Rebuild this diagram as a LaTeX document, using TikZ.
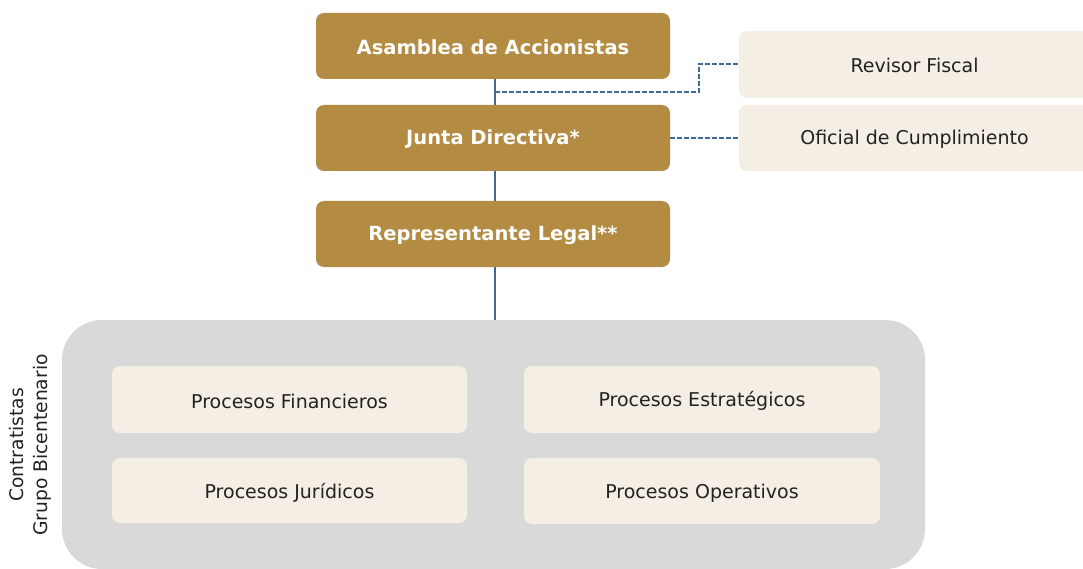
\documentclass[tikz,border=0pt]{standalone}
\usepackage{fontspec}
\setmainfont{DejaVu Sans}
\definecolor{gold}{HTML}{B38B42}
\definecolor{beige}{HTML}{F4EEE4}
\definecolor{panel}{HTML}{D9D9D9}
\definecolor{lineblue}{HTML}{3F6A98}
\definecolor{txt}{HTML}{222222}
\begin{document}
\begin{tikzpicture}[x=1pt,y=-1pt,
  goldbox/.style={fill=gold,rounded corners=8pt,text=white,font=\fontsize{19.5}{22}\selectfont\bfseries},
  lightbox/.style={fill=beige,rounded corners=8pt,text=txt,font=\fontsize{19}{22}\selectfont},
  solidline/.style={draw=lineblue,line width=1.4pt},
  dashline/.style={draw=lineblue,line width=1.4pt,dash pattern=on 4.5pt off 2.5pt}]
\useasboundingbox (0,0) rectangle (1083,569);
% panel
\fill[panel,rounded corners=40pt] (62,320) rectangle (925,569);
\node[rotate=90,align=center,text=txt,font=\fontsize{18.7}{24}\selectfont] (lbl) at (30,445) {Contratistas\\Grupo Bicentenario};
% gold boxes
\path[goldbox] (316,13) rectangle (670,79) node[midway,yshift=-1pt] (asam) {Asamblea de Accionistas};
\path[goldbox] (316,105) rectangle (670,171) node[midway,yshift=-1.5pt] (junta) {Junta Directiva*};
\path[goldbox] (316,201) rectangle (670,267) node[midway,yshift=-1.5pt] (rep) {Representante Legal**};
% side boxes
\path[lightbox] (739,31) rectangle (1090,98) node[pos=0.5,yshift=-1pt] (rev) {Revisor Fiscal};
\path[lightbox] (739,105) rectangle (1090,171) node[pos=0.5,yshift=-1.5pt] (ofi) {Oficial de Cumplimiento};
% process boxes
\path[lightbox] (112,366) rectangle (467,433) node[midway,yshift=-1.5pt] (fin) {Procesos Financieros};
\path[lightbox] (112,458) rectangle (467,523) node[midway,yshift=-2pt] (jur) {Procesos Jurídicos};
\path[lightbox] (524,366) rectangle (880,433) node[midway,yshift=-1.5pt] (est) {Procesos Estratégicos};
\path[lightbox] (524,458) rectangle (880,524) node[midway,yshift=-2pt] (ope) {Procesos Operativos};
% named anchors
\coordinate (aB) at (495,79);
\coordinate (jT) at (495,105);
\coordinate (jB) at (495,171);
\coordinate (rT) at (495,201);
\coordinate (rB) at (495,267);
\coordinate (pT) at (495,320);
\coordinate (br) at (495,92);
\coordinate (jR) at (670,138);
\coordinate (revL) at (739,64);
\coordinate (ofiL) at (739,138);
% connectors
\draw[solidline] (aB) -- (jT);
\draw[solidline] (jB) -- (rT);
\draw[solidline] (rB) -- (pT);
\draw[dashline] (br) -| (699,64) -- (revL);
\draw[dashline] (jR) -- (ofiL);
\end{tikzpicture}
\end{document}
